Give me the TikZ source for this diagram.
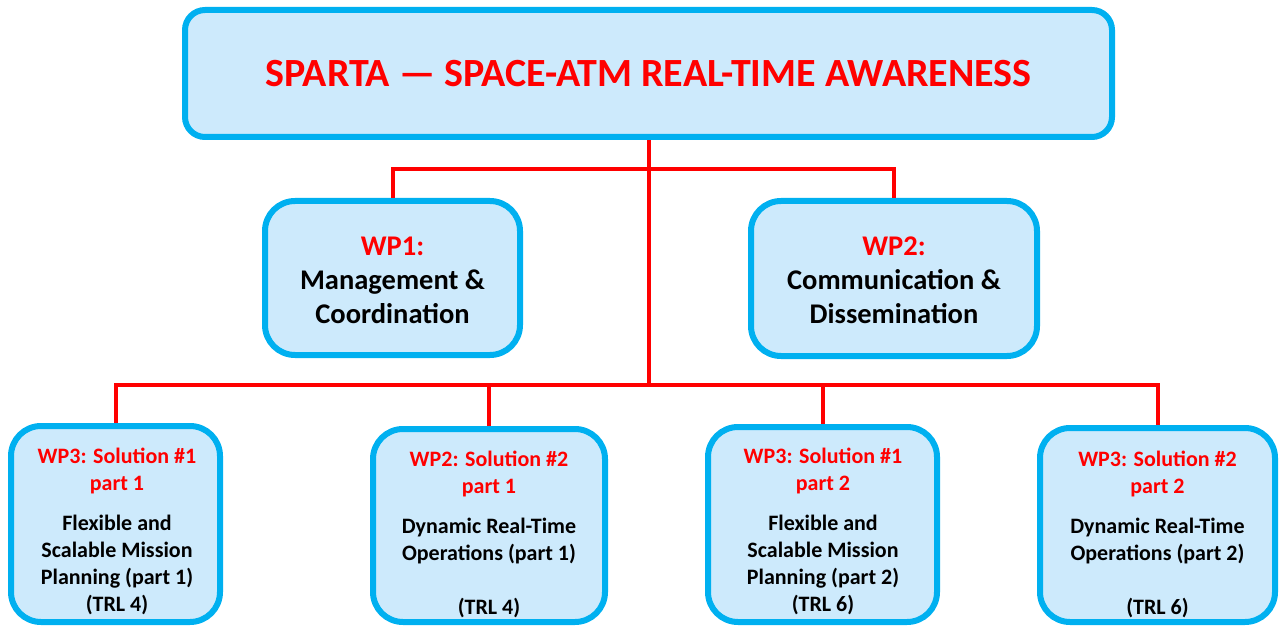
\documentclass[tikz,border=0pt]{standalone}
\usepackage{fontspec}
\setmainfont{Carlito}
\definecolor{bordercol}{HTML}{00B0F0}
\definecolor{redtxt}{HTML}{FF0000}
\definecolor{filldark}{HTML}{A3D7F8}
\definecolor{filllight}{HTML}{CDEAFC}
\begin{document}
\begin{tikzpicture}[x=1pt,y=-1pt,
  box/.style={draw=bordercol, line width=6pt, rounded corners=#1, rectangle,
    top color=filllight, middle color=filldark, bottom color=filllight, shading angle=-45, inner sep=0pt},
  box/.default=28pt,
  conn/.style={draw=redtxt, line width=4pt},
  txt/.style={align=center, inner sep=0pt, font=\bfseries},
  red/.style={text=redtxt}
]
\useasboundingbox (0,0) rectangle (1279,628);
% boxes
\node[box=20pt, minimum width=927pt, minimum height=127pt] (top) at (648.5,73.5) {};
\node[box=30pt, minimum width=255pt, minimum height=154pt] (wp1) at (392.5,278) {};
\node[box=30pt, minimum width=286pt, minimum height=155pt] (wp2) at (894,278.5) {};
\node[box=30pt, minimum width=209pt, minimum height=196pt] (b1) at (115.5,524) {};
\node[box=30pt, minimum width=232pt, minimum height=193pt] (b2) at (489,525.5) {};
\node[box=30pt, minimum width=229pt, minimum height=195pt] (b3) at (822.5,524.5) {};
\node[box=30pt, minimum width=235pt, minimum height=194pt] (b4) at (1157.5,525) {};
% connectors
\coordinate (j1) at (648.5,169);
\coordinate (j2) at (648.5,385);
\draw[conn] (top.south) -- (j2);
\draw[conn] (wp1.north) |- (j1) -| (wp2.north);
\draw[conn] (b1.north) |- (j2) -| (b4.north);
\draw[conn] (b2.north) |- (j2);
\draw[conn] (b3.north) |- (j2);
% texts
\node[txt, red, font=\bfseries\fontsize{40}{48}\selectfont] (ttop) at (648.5,74) {SPARTA — SPACE-ATM REAL-TIME AWARENESS};
\node[txt, font=\bfseries\fontsize{28.5}{34}\selectfont] (twp1) at (392.5,280) {\textcolor{redtxt}{WP1:}\\Management \&\\Coordination};
\node[txt, font=\bfseries\fontsize{28.5}{34}\selectfont] (twp2) at (894,280) {\textcolor{redtxt}{WP2:}\\Communication \&\\Dissemination};
\node[txt, font=\bfseries\fontsize{22}{27}\selectfont, anchor=north] (tb1) at (117,448) {\textcolor{redtxt}{WP3: Solution \#1}\\\textcolor{redtxt}{part 1}\\[13pt]Flexible and\\Scalable Mission\\Planning (part 1)\\(TRL 4)};
\node[txt, font=\bfseries\fontsize{22}{27}\selectfont, anchor=north] (tb2) at (489,451) {\textcolor{redtxt}{WP2: Solution \#2}\\\textcolor{redtxt}{part 1}\\[13pt]Dynamic Real-Time\\Operations (part 1)\\\mbox{}\\(TRL 4)};
\node[txt, font=\bfseries\fontsize{22}{27}\selectfont, anchor=north] (tb3) at (823,448) {\textcolor{redtxt}{WP3: Solution \#1}\\\textcolor{redtxt}{part 2}\\[13pt]Flexible and\\Scalable Mission\\Planning (part 2)\\(TRL 6)};
\node[txt, font=\bfseries\fontsize{22}{27}\selectfont, anchor=north] (tb4) at (1157.5,451) {\textcolor{redtxt}{WP3: Solution \#2}\\\textcolor{redtxt}{part 2}\\[13pt]Dynamic Real-Time\\Operations (part 2)\\\mbox{}\\(TRL 6)};
\end{tikzpicture}
\end{document}
